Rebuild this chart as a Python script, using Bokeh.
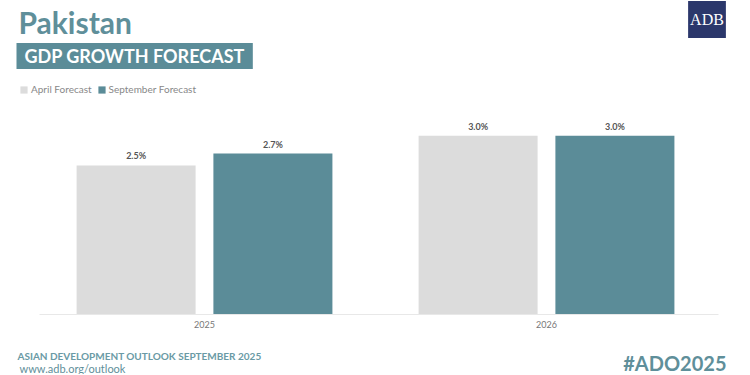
from bokeh.plotting import figure
from bokeh.models import (ColumnDataSource, Range1d, Label, Legend, LegendItem,
                          FixedTicker, NumeralTickFormatter)
from bokeh.layouts import column
from bokeh.transform import dodge
from bokeh.core.properties import value
from bokeh.embed import file_html
from bokeh.resources import INLINE

years = [2025, 2026]
april = [2.5, 3.0]
september = [2.7, 3.0]
april_labels = ["2.5%", "3.0%"]
september_labels = ["2.7%", "3.0%"]

TEAL = "#5b8c98"
TITLE_C = "#5f8f9a"
GRAY = "#dcdcdc"
FONT = "Lato"
W = 734
MAIN_H, FOOT_H = 334, 40
FRAME_H = 314  # main frame from canvas top to baseline

src = ColumnDataSource(dict(years=years, april=april, september=september,
                            april_labels=april_labels, september_labels=september_labels))

p = figure(width=W, height=MAIN_H, x_range=Range1d(2024.4035, 2026.5497),
           y_range=Range1d(0, 5.268), output_backend="svg", toolbar_location=None,
           min_border_left=0, min_border_right=0, min_border_top=0,
           min_border_bottom=MAIN_H - FRAME_H)
p.outline_line_color = None
p.grid.visible = False
p.yaxis.visible = False
ax = p.xaxis[0]
ax.ticker = FixedTicker(ticks=years)
ax.formatter = NumeralTickFormatter(format="0")
ax.bounds = (2024.518, 2026.503)
ax.axis_line_color = "#e8e8e8"
ax.major_tick_line_color = None
ax.minor_tick_line_color = None
ax.major_tick_out = 0
ax.major_tick_in = 0
ax.minor_tick_out = 0
ax.major_label_text_font = FONT
ax.major_label_text_font_size = "9px"
ax.major_label_text_color = "#777777"
ax.major_label_standoff = 6

r1 = p.vbar(x=dodge("years", -0.2), top="april", width=0.348, source=src,
            fill_color=GRAY, line_color=None)
r2 = p.vbar(x=dodge("years", 0.2), top="september", width=0.348, source=src,
            fill_color=TEAL, line_color=None)

for off, col, lab in [(-0.2, "april", "april_labels"), (0.2, "september", "september_labels")]:
    p.text(x=dodge("years", off), y=col, text=lab, source=src,
           text_font=value(FONT), text_font_style="bold", text_font_size="9px",
           text_color="#555555", text_align="center", text_baseline="bottom", y_offset=-4)

legend = Legend(items=[LegendItem(label="April Forecast", renderers=[r1]),
                       LegendItem(label="September Forecast", renderers=[r2])],
                orientation="horizontal", location=(19, FRAME_H - 95),
                label_text_font=FONT, label_text_font_size="10px", label_text_color="#888888",
                glyph_width=9, glyph_height=9, label_standoff=3, spacing=5,
                padding=0, margin=0, border_line_color=None, background_fill_alpha=0,
                label_height=9)
p.add_layout(legend, "center")


def fix(size):
    # alphabetic-baseline correction observed in rendering
    return 0.26 * float(size.replace("px", ""))


def mlabel(txt, px, py, size, color, style="normal", font=FONT, align="left",
           baseline="alphabetic", **kw):
    corr = fix(size) if baseline == "alphabetic" else 0
    p.add_layout(Label(x=px - 1, y=FRAME_H - py + corr, x_units="screen", y_units="screen",
                       text=txt, text_font=font, text_font_size=size, text_color=color,
                       text_font_style=style, text_align=align, text_baseline=baseline, **kw))


mlabel("Pakistan", 19, 29, "30px", TITLE_C, "bold")
mlabel("GDP GROWTH FORECAST", 17, 55.5, "18px", "white", "bold", baseline="middle",
       background_fill_color=TEAL, padding=(8, 2))
mlabel("ADB", 707.5, 19, "16px", "white", font="Liberation Serif", align="center",
       baseline="middle", background_fill_color="#2b376b", padding=(2, 10))

f = figure(width=W, height=FOOT_H, x_range=Range1d(0, 1), y_range=Range1d(0, 1),
           output_backend="svg", toolbar_location=None, x_axis_location=None,
           y_axis_location=None, min_border=0)
f.outline_line_color = None
f.grid.visible = False
FOOT_TOP = MAIN_H


def flabel(txt, px, py, size, color, style="normal", align="left"):
    f.add_layout(Label(x=px - 1, y=FOOT_TOP + FOOT_H - py + fix(size),
                       x_units="screen", y_units="screen",
                       text=txt, text_font=FONT, text_font_size=size, text_color=color,
                       text_font_style=style, text_align=align, text_baseline="alphabetic"))


flabel("ASIAN DEVELOPMENT OUTLOOK SEPTEMBER 2025", 18, 358, "10px", "#6a9aa5", "bold")
flabel("www.adb.org/outlook", 20, 370.5, "11px", TITLE_C)
flabel("#ADO2025", 727, 368, "20px", TITLE_C, "bold", align="right")

open("out.html", "w").write(file_html(column(p, f), INLINE))
